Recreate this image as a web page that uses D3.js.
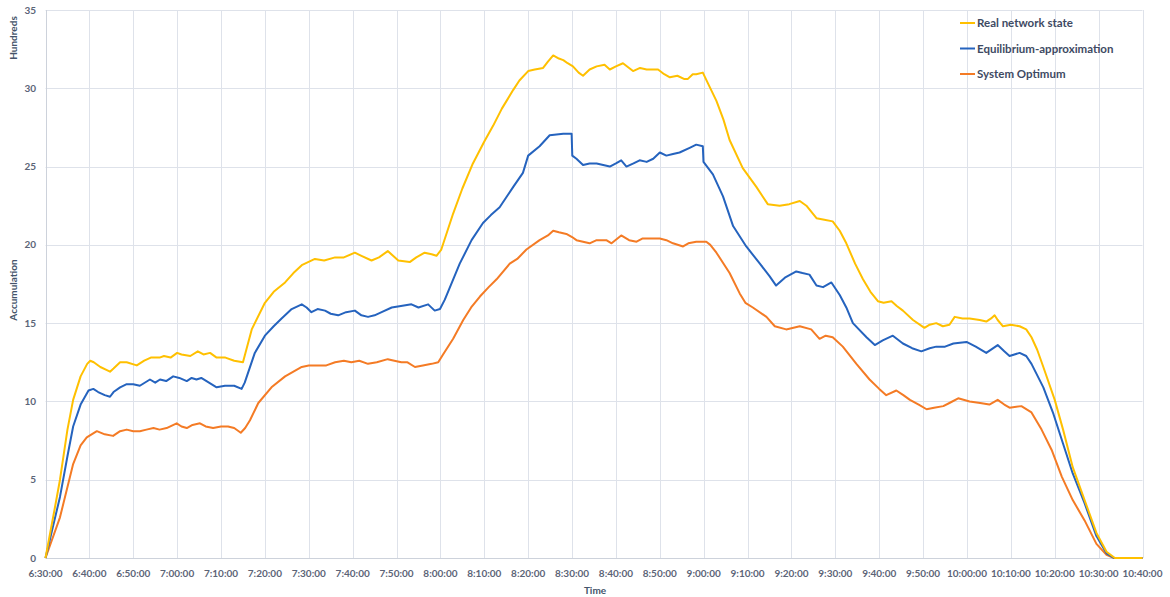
<!DOCTYPE html>
<html>
<head>
<meta charset="utf-8">
<script src="https://cdn.jsdelivr.net/npm/d3@7"></script>
<style>
  body { margin: 0; background: #ffffff; }
  svg text { font-family: Lato, "Open Sans", sans-serif; font-weight: bold; }
</style>
</head>
<body>
<svg></svg>
<script>
// x tick labels, every 10 minutes from 6:30:00
var xTickLabels = ['6:30:00','6:40:00','6:50:00','7:00:00','7:10:00','7:20:00','7:30:00','7:40:00',
  '7:50:00','8:00:00','8:10:00','8:20:00','8:30:00','8:40:00','8:50:00','9:00:00','9:10:00',
  '9:20:00','9:30:00','9:40:00','9:50:00','10:00:00','10:10:00','10:20:00','10:30:00','10:40:00']
var yTicks = [0, 5, 10, 15, 20, 25, 30, 35]

var seriesNames = ['Real network state', 'Equilibrium-approximation', 'System Optimum']

// minutes after 6:30:00 / accumulation in hundreds
var realMin = [0,2,3.3,5,6.3,8,9.5,10.2,11,12.5,14,14.7,15.5,17,18.5,20.8,22.5,24,26,27,28.5,30,31,33,34.7,36,37.5,39,41,43,45,
  47,50,52,54.6,56.5,58.4,61.4,63.5,66,68,70.5,72,74.3,76,78,79.2,80.4,83,84.5,86.4,88,89.1,90.2,92.9,95,97.4,100,102,104,
  106.6,108,110,111.5,113.4,114.5,115.7,117,118,119,120.2,121.5,122.5,124,125.6,127.4,128.6,130,131.6,133,133.9,135.5,137,
  139.6,141,142.3,144,145.5,146.4,147.5,148.3,149.8,151,152.9,154.5,155.9,158.9,162,164.6,167.3,169.5,171.9,173.4,175.7,
  177.5,179.4,181,182.5,184.5,186.3,188,189.7,191,192.8,194,195.4,197.7,200.3,201.5,203,204.5,206,207.2,209,210.6,212.9,
  214.4,215.5,216.3,217,218.2,220,222,223.5,224.7,226,227.4,230,231.9,234.1,236.8,239.5,241.8,243.7,250]
var realVal = [0,3.0,5.0,8.2,10.1,11.6,12.4,12.6,12.5,12.2,12.0,11.9,12.1,12.5,12.5,12.3,12.6,12.8,12.8,12.9,12.8,13.1,13.0,12.9,13.2,13.0,13.1,12.8,12.8,12.6,12.5,
  14.6,16.3,17.0,17.6,18.2,18.7,19.1,19.0,19.2,19.2,19.5,19.3,19.0,19.2,19.6,19.3,19.0,18.9,19.2,19.5,19.4,19.3,19.7,22.0,23.6,25.2,26.6,27.6,28.7,
  29.9,30.5,31.1,31.2,31.3,31.7,32.1,31.9,31.8,31.6,31.4,31.0,30.8,31.2,31.4,31.5,31.2,31.4,31.6,31.3,31.1,31.3,31.2,
  31.2,30.9,30.7,30.8,30.6,30.6,30.9,30.9,31.0,30.3,29.2,28.0,26.7,24.9,23.7,22.6,22.5,22.6,22.8,22.5,21.7,
  21.6,21.5,20.9,20.1,18.8,17.8,17.0,16.4,16.3,16.4,16.1,15.8,15.2,14.7,14.9,15.0,14.8,14.9,15.4,15.3,15.3,15.2,
  15.1,15.3,15.5,15.2,14.8,14.9,14.8,14.6,14.1,13.3,12.2,10.1,8.2,5.8,3.7,1.6,0.4,0,0]

var equiMin = [0,3.3,5,6.3,8,9.8,10.9,12,13.5,14.7,15.5,17,18.5,20,21.5,23.8,25,26.1,27.5,29.1,30.5,32.2,33.3,34.4,35.5,36.7,39,40.9,43,44.7,45.4,
  47.7,50,52,53.8,56.1,58.4,59.5,60.6,62,63.7,65,66.7,68.5,70.5,72,73.5,75,76.6,78.9,81,83.4,85,87.2,88.7,89.9,91,94.4,97.1,99.7,
  101.5,103.5,106.6,108.8,110,112.6,114.9,118,119.9,120.05,121,122.5,124,125.6,128.6,130,131.2,132.4,134,135.4,137,138.5,140,
  141.5,143,144.5,146.8,148.3,149.8,149.95,152.1,154.4,156.7,159.7,162.8,165,166.5,168.5,171.1,172.5,174.1,175.7,177.2,179.1,
  181,182.5,184,187.1,189,190.8,193.1,195.4,197.5,199.6,201.5,203,205,206.9,209.9,212,214.4,217,218.5,219.7,222,223.5,224.7,
  227.4,229.7,231.9,234.1,236.8,239.5,241.8,243.5,250]
var equiVal = [0,3.9,6.5,8.4,9.8,10.7,10.8,10.6,10.4,10.3,10.6,10.9,11.1,11.1,11.0,11.4,11.2,11.4,11.3,11.6,11.5,11.3,11.5,11.4,11.5,11.3,10.9,11.0,11.0,10.8,11.2,
  13.1,14.2,14.8,15.3,15.9,16.2,16.0,15.7,15.9,15.8,15.6,15.5,15.7,15.8,15.5,15.4,15.5,15.7,16.0,16.1,16.2,16.0,16.2,15.8,15.9,16.5,18.8,20.3,21.4,
  21.9,22.4,23.7,24.6,25.7,26.3,27.0,27.1,27.1,25.7,25.5,25.1,25.2,25.2,25.0,25.2,25.4,25.0,25.2,25.4,25.3,25.5,25.9,
  25.7,25.8,25.9,26.2,26.4,26.3,25.3,24.5,23.1,21.2,19.9,18.8,18.0,17.4,17.9,18.3,18.2,18.1,17.4,17.3,17.6,
  16.8,16.0,15.0,14.1,13.6,13.9,14.2,13.7,13.4,13.2,13.4,13.5,13.5,13.7,13.8,13.5,13.1,13.6,13.2,12.9,13.1,12.9,12.4,
  10.9,9.2,7.3,5.4,3.5,1.4,0.3,0,0]

var optMin = [0,3.3,6.3,8,9.4,11.7,13.5,15.4,17,18.5,20,21.5,23,24.6,26,27.6,29.9,31,32.2,33.5,35.2,36.5,38.2,40,41.6,43,44.5,45.5,
  46.6,48.5,51.5,54.6,56.5,58.4,60,62.1,64,66,68,69.7,71.5,73.5,75.5,78,79.5,81.1,82.5,84.2,86,88,89.5,90.6,92.9,95.2,97,99,
  101,102.8,105.8,107.5,109.6,112.6,114.5,115.7,117,118.7,120,121,122.5,124,125.6,127.8,129,131.2,133,134.7,136,137.7,140,
  141.5,143,145.3,146.5,148.3,150.6,151.5,152.9,155.9,158.2,159.5,161.2,164.3,166.2,168.8,171.9,174.5,176.4,177.8,179.4,
  181.7,184.8,187.8,190,191.6,193.9,195.5,197,199,200.8,202.5,204.6,206,208,210.6,213,215.1,217,218.5,219.7,222.4,224.7,
  227,229.3,231.6,234.1,236.8,239.5,241.8,243.5,250]
var optVal = [0,2.6,6.0,7.2,7.7,8.1,7.9,7.8,8.1,8.2,8.1,8.1,8.2,8.3,8.2,8.3,8.6,8.4,8.3,8.5,8.6,8.4,8.3,8.4,8.4,8.3,8.0,8.3,
  8.8,9.9,10.9,11.6,11.9,12.2,12.3,12.3,12.3,12.5,12.6,12.5,12.6,12.4,12.5,12.7,12.6,12.5,12.5,12.2,12.3,12.4,12.5,13.0,14.0,15.2,16.0,16.7,
  17.3,17.8,18.8,19.1,19.7,20.3,20.6,20.9,20.8,20.7,20.5,20.3,20.2,20.1,20.3,20.3,20.1,20.6,20.3,20.2,20.4,20.4,20.4,
  20.3,20.1,19.9,20.1,20.2,20.2,20.0,19.5,18.2,16.9,16.3,16.0,15.4,14.8,14.6,14.8,14.6,14.0,14.2,14.1,
  13.5,12.4,11.4,10.8,10.4,10.7,10.4,10.1,9.8,9.5,9.6,9.7,9.9,10.2,10.0,9.9,9.8,10.1,9.8,9.6,9.7,9.3,
  8.2,6.9,5.2,3.7,2.4,0.9,0.2,0,0]

var colors = ['#FFC000', '#2563BE', '#F47B25']

var svgWidth = 1170, svgHeight = 597
var svg = d3.select('svg').attr('width', svgWidth).attr('height', svgHeight)

var xScale = d3.scaleLinear().domain([0, 250]).range([45.5, 1142.5])
var yScale = d3.scaleLinear().domain([0, 35]).range([558, 10])

// grid
svg.append('g').selectAll('line.h')
  .data(yTicks).enter().append('line')
  .attr('x1', xScale(0)).attr('x2', xScale(250))
  .attr('y1', function(d) { return Math.round(yScale(d)) + 0.5 })
  .attr('y2', function(d) { return Math.round(yScale(d)) + 0.5 })
  .attr('stroke', function(d) { return d === 0 ? '#CDD2DB' : '#DEE2EA' })
  .attr('stroke-width', 1)

svg.append('g').selectAll('line.v')
  .data(xTickLabels).enter().append('line')
  .attr('x1', function(d, i) { return Math.round(xScale(i * 10)) + 0.5 })
  .attr('x2', function(d, i) { return Math.round(xScale(i * 10)) + 0.5 })
  .attr('y1', yScale(35)).attr('y2', yScale(0))
  .attr('stroke', function(d, i) { return i === 0 ? '#CDD2DB' : '#DEE2EA' })
  .attr('stroke-width', 1)

// tick labels
svg.append('g').selectAll('text')
  .data(yTicks).enter().append('text')
  .attr('x', 36).attr('y', function(d) { return yScale(d) })
  .attr('dy', '0.35em').attr('text-anchor', 'end')
  .style('font-size', '10px').style('fill', '#5C6477')
  .text(function(d) { return d })

svg.append('g').selectAll('text')
  .data(xTickLabels).enter().append('text')
  .attr('x', function(d, i) { return xScale(i * 10) })
  .attr('y', 577).attr('text-anchor', 'middle')
  .style('font-size', '10px').style('fill', '#5C6477')
  .text(function(d) { return d })

// axis titles
svg.append('text').attr('transform', 'translate(17,38) rotate(-90)')
  .attr('text-anchor', 'middle').style('font-size', '10px').style('fill', '#44546A').text('Hundreds')
svg.append('text').attr('transform', 'translate(17,290) rotate(-90)')
  .attr('text-anchor', 'middle').style('font-size', '10px').style('fill', '#44546A').text('Accumulation')
svg.append('text').attr('x', 595).attr('y', 594)
  .attr('text-anchor', 'middle').style('font-size', '10px').style('fill', '#44546A').text('Time')

// lines
var series = [
  { mins: realMin, vals: realVal },
  { mins: equiMin, vals: equiVal },
  { mins: optMin, vals: optVal }
]
var line = d3.line()
  .x(function(d) { return xScale(d[0]) })
  .y(function(d) { return yScale(d[1]) })

// draw orange first, yellow on top like the reference order
;[2, 1, 0].forEach(function(k) {
  var pts = series[k].mins.map(function(m, i) { return [m, series[k].vals[i]] })
  svg.append('path').datum(pts)
    .attr('d', line)
    .attr('fill', 'none')
    .attr('stroke', colors[k])
    .attr('stroke-width', 2)
    .attr('stroke-linejoin', 'round')
})

// legend
var legend = svg.append('g').selectAll('g')
  .data(seriesNames).enter().append('g')
  .attr('transform', function(d, i) { return 'translate(960,' + (23 + i * 25.5) + ')' })
legend.append('line').attr('x1', 0).attr('x2', 15)
  .attr('stroke', function(d, i) { return colors[i] }).attr('stroke-width', 2)
legend.append('text').attr('x', 17).attr('dy', '0.35em')
  .style('font-size', '11.5px').style('fill', '#3E4A63')
  .text(function(d) { return d })
</script>
</body>
</html>
